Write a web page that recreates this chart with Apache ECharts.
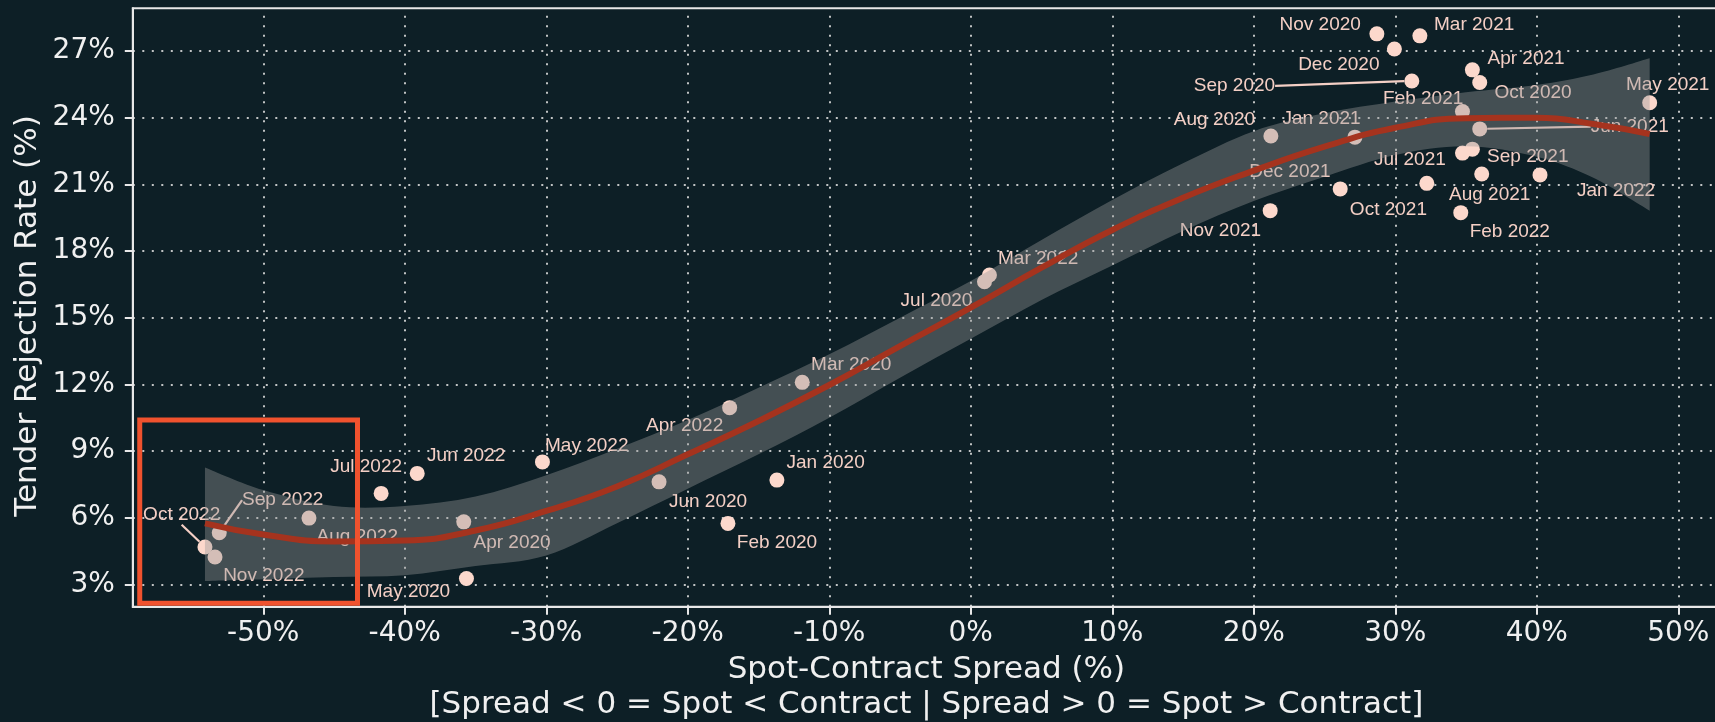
<!DOCTYPE html>
<html>
<head>
<meta charset="utf-8">
<script src="https://cdn.jsdelivr.net/npm/echarts@6/dist/echarts.min.js"></script>
<style>
html,body{margin:0;padding:0;background:#0d1f26;}
#chart{width:1715px;height:722px;}
</style>
</head>
<body>
<div id="chart"></div>
<script>
// ---- data ----
const months = ['Jan 2020','Feb 2020','Mar 2020','Apr 2020','May 2020','Jun 2020','Jul 2020','Aug 2020','Sep 2020','Oct 2020','Nov 2020','Dec 2020',
  'Jan 2021','Feb 2021','Mar 2021','Apr 2021','May 2021','Jun 2021','Jul 2021','Aug 2021','Sep 2021','Oct 2021','Nov 2021','Dec 2021',
  'Jan 2022','Feb 2022','Mar 2022','Apr 2022','May 2022','Jun 2022','Jul 2022','Aug 2022','Sep 2022','Oct 2022','Nov 2022'];
const spread = [-13.70,-17.16,-11.91,-35.83,-35.64,-22.03,0.97,21.21,31.17,35.97,28.70,29.94,
  27.15,34.75,31.74,35.45,47.98,35.97,34.75,36.11,35.45,32.23,21.16,26.11,
  40.23,34.63,1.32,-17.04,-30.27,-39.12,-41.67,-46.77,-53.11,-54.12,-53.41];
const rejection = [7.69,5.74,12.09,5.81,3.26,7.61,16.62,23.18,25.66,25.59,27.78,27.10,
  23.13,24.28,27.69,26.16,24.68,23.50,22.41,21.47,22.59,21.05,19.82,20.80,
  21.43,19.73,16.92,10.95,8.51,7.99,7.09,5.98,5.32,4.68,4.23];

const fitX = [-54.12,-50,-45,-40,-35,-30,-25,-20,-15,-10,-5,0,5,10,15,20,25,30,35,40,44,47.98];
const fitY = [5.74,5.24,4.93,4.97,5.42,6.30,7.40,8.85,10.35,11.97,13.72,15.45,17.25,18.95,20.40,21.62,22.70,23.55,23.98,24.00,23.72,23.27];
const bandUpper = [8.26,7.24,6.52,6.52,6.95,7.91,9.10,10.39,11.85,13.35,15.00,16.65,18.50,20.30,21.95,23.40,24.20,24.73,25.15,25.48,25.95,26.68];
const bandLower = [3.15,3.23,3.33,3.41,3.82,4.30,5.75,7.30,8.85,10.50,12.30,14.05,15.80,17.35,18.90,20.25,21.35,22.33,22.72,22.25,21.30,19.82];

const xTicks = [-50,-40,-30,-20,-10,0,10,20,30,40,50];
const yTicks = [3,6,9,12,15,18,21,24,27];
const highlightX = [-58.73,-43.34];
const highlightY = [2.15,10.39];

// ---- label layout (styling only) ----
const labelOffsets = {
  'Jan 2020':[48.7,-17.3],'Feb 2020':[49,19.4],'Mar 2020':[49,-17.3],'Apr 2020':[48.3,20.6],'May 2020':[-58,13.4],
  'Jun 2020':[49,20],'Jul 2020':[-48,19],'Aug 2020':[-56.4,-16.7],'Sep 2020':[-177.4,5],'Oct 2020':[53.3,10],
  'Nov 2020':[-56.7,-9],'Dec 2020':[-55.6,16],'Jan 2021':[-33.4,-18],'Feb 2021':[-39.3,-12.7],'Mar 2021':[54.3,-11],
  'Apr 2021':[53.7,-11],'May 2021':[18,-17.7],'Jun 2021':[150,-2.3],'Jul 2021':[-52.6,6.7],'Aug 2021':[8,20.3],
  'Sep 2021':[55.4,7.4],'Oct 2021':[-38.4,26],'Nov 2021':[-49.7,20],'Dec 2021':[-50.3,-17.3],'Jan 2022':[76,16],
  'Feb 2022':[49,19.6],'Mar 2022':[48.7,-16.7],'Apr 2022':[-45,18],'May 2022':[44.3,-15.7],'Jun 2022':[49,-17.3],
  'Jul 2022':[-15,-26.6],'Aug 2022':[48.3,18.7],'Sep 2022':[63.5,-32.7],'Oct 2022':[-23.3,-31.7],'Nov 2022':[48.8,19.3]
};
const leaderLabels = ['Sep 2020','Jun 2021','Sep 2022','Oct 2022'];

const scatterData = months.map((m, i) => ({
  name: m,
  value: [spread[i], rejection[i]],
  labelLine: { show: leaderLabels.indexOf(m) >= 0 }
}));
const fitData = fitX.map((x, i) => [x, fitY[i]]);
const gridLineData = yTicks.map(v => ({ yAxis: v })).concat(xTicks.map(v => ({ xAxis: v })));

// Catmull-Rom -> cubic bezier path segments through pixel points
function crSegments(p) {
  let d = '';
  for (let i = 0; i < p.length - 1; i++) {
    const p0 = p[i - 1] || p[i], p1 = p[i], p2 = p[i + 1], p3 = p[i + 2] || p[i + 1];
    const c1x = p1[0] + (p2[0] - p0[0]) / 6, c1y = p1[1] + (p2[1] - p0[1]) / 6;
    const c2x = p2[0] - (p3[0] - p1[0]) / 6, c2y = p2[1] - (p3[1] - p1[1]) / 6;
    d += ' C' + c1x + ' ' + c1y + ' ' + c2x + ' ' + c2y + ' ' + p2[0] + ' ' + p2[1];
  }
  return d;
}

const axisColor = '#e8e8e8';
const chart = echarts.init(document.getElementById('chart'), null, { renderer: 'canvas' });
chart.setOption({
  animation: false,
  backgroundColor: '#0d1f26',
  grid: {
    left: 132.8, top: 8.3, width: 1587.2, height: 598.4,
    containLabel: false, outerBoundsMode: 'none',
    show: true, borderColor: axisColor, borderWidth: 2, backgroundColor: 'transparent'
  },
  xAxis: {
    type: 'value', min: -59.22, max: 52.95,
    splitLine: { show: false },
    axisLine: { show: true, onZero: false, lineStyle: { color: axisColor, width: 2 } },
    axisTick: { show: true, customValues: xTicks, length: 8, lineStyle: { color: axisColor, width: 2 } },
    axisLabel: { customValues: xTicks, formatter: v => v + '%', color: '#f0f0f0', fontSize: 28, fontFamily: 'DejaVu Sans', margin: 13 },
    name: 'Spot-Contract Spread (%)\n[Spread < 0 = Spot < Contract | Spread > 0 = Spot > Contract]',
    nameLocation: 'middle', nameGap: 46, nameMoveOverlap: false,
    nameTextStyle: { color: '#f0f0f0', fontSize: 31, lineHeight: 35, fontFamily: 'DejaVu Sans' }
  },
  yAxis: {
    type: 'value', min: 1.99, max: 28.93,
    splitLine: { show: false },
    axisLine: { show: true, onZero: false, lineStyle: { color: axisColor, width: 2 } },
    axisTick: { show: true, customValues: yTicks, length: 8, lineStyle: { color: axisColor, width: 2 } },
    axisLabel: { customValues: yTicks, formatter: v => v + '%', color: '#f0f0f0', fontSize: 28, fontFamily: 'DejaVu Sans', margin: 18 },
    name: 'Tender Rejection Rate (%)',
    nameLocation: 'middle', nameRotate: 90, nameGap: 90, nameMoveOverlap: false,
    nameTextStyle: { color: '#f0f0f0', fontSize: 31, lineHeight: 30, fontFamily: 'DejaVu Sans', padding: [0, 17, 0, 0] }
  },
  series: [
    {
      name: 'gridlines', type: 'line', data: [], z: 1, silent: true,
      markLine: {
        silent: true, z: 0, symbol: ['none', 'none'], animation: false,
        label: { show: false },
        lineStyle: { color: 'rgba(225,225,225,0.85)', width: 2, type: [2, 7.5] },
        emphasis: { disabled: true },
        data: gridLineData
      }
    },
    {
      name: 'months', type: 'scatter', z: 2, symbolSize: 15, data: scatterData,
      itemStyle: { color: '#fcd8cc', opacity: 1 },
      label: {
        show: true, position: 'inside', formatter: '{b}',
        color: '#f4cfc5', fontSize: 19, fontFamily: 'Liberation Sans',
        textBorderWidth: 0, textBorderColor: 'transparent'
      },
      labelLine: { show: false, lineStyle: { color: '#f4cfc5', width: 2.2 } },
      labelLayout: p => {
        const o = labelOffsets[months[p.dataIndex]];
        return { dx: o[0], dy: o[1] };
      },
      emphasis: { disabled: true }
    },
    {
      name: 'band', type: 'custom', z: 3, silent: true, clip: false,
      data: [[fitX[0], bandLower[0]]],
      renderItem: (params, api) => {
        const up = fitX.map((x, i) => api.coord([x, bandUpper[i]]));
        const lo = fitX.map((x, i) => api.coord([x, bandLower[i]])).reverse();
        const d = 'M' + up[0][0] + ' ' + up[0][1] + crSegments(up) +
          ' L' + lo[0][0] + ' ' + lo[0][1] + crSegments(lo) + ' Z';
        return { type: 'path', shape: { pathData: d }, style: { fill: 'rgba(153,153,153,0.4)', stroke: null } };
      }
    },
    {
      name: 'fit', type: 'line', z: 4, smooth: true, symbol: 'none', silent: true,
      data: fitData, lineStyle: { color: '#a5331e', width: 6 }
    },
    {
      name: 'highlight', type: 'line', z: 10, data: [], silent: true,
      markArea: {
        silent: true, z: 10,
        label: { show: false },
        itemStyle: { color: 'rgba(0,0,0,0)', borderColor: '#f0522e', borderWidth: 5 },
        data: [[{ xAxis: highlightX[0], yAxis: highlightY[1] }, { xAxis: highlightX[1], yAxis: highlightY[0] }]]
      }
    }
  ]
});
</script>
</body>
</html>
